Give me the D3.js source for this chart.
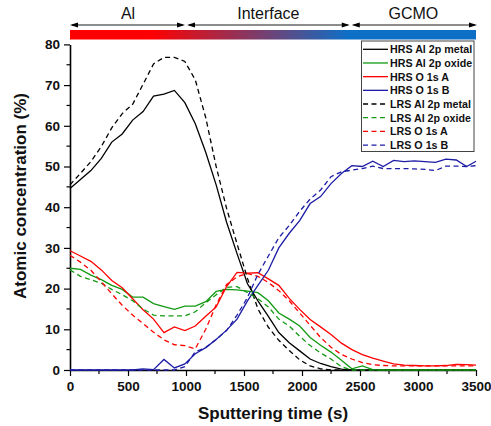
<!DOCTYPE html>
<html>
<head>
<meta charset="utf-8">
<script src="https://cdn.jsdelivr.net/npm/d3@7"></script>
<style>
  body { margin: 0; background: #fff; }
  svg { display: block; font-family: "Liberation Sans", Arial, sans-serif; }
</style>
</head>
<body>
<div id="chart"></div>
<script>
// sputtering time (s)
var times = [0, 90, 180, 270, 360, 450, 540, 630, 720, 810, 900, 990, 1080, 1170, 1260, 1350, 1440, 1530, 1620, 1710,
  1800, 1890, 1980, 2070, 2160, 2250, 2340, 2430, 2520, 2610, 2700, 2790, 2880, 2970, 3060, 3150, 3240, 3330, 3420, 3500];

var hrsAlMetal = [44.6, 46.8, 49.0, 52.0, 56.0, 58.0, 61.4, 63.5, 67.3, 67.8, 68.7, 65.7, 60.5, 53.5, 45.5, 36.3, 28.6, 21.2, 17.0, 13.2,
  9.2, 6.7, 4.7, 2.7, 1.6, 0.8, 0.2, 0, 0, 0, 0, 0, 0, 0, 0, 0, 0, 0, 0, 0];
var hrsAlOxide = [25.0, 24.7, 23.3, 22.2, 20.8, 19.8, 17.9, 17.9, 16.3, 15.6, 14.9, 15.7, 15.7, 16.8, 19.3, 19.8, 19.7, 19.4, 19.0, 17.0,
  14.0, 12.5, 10.8, 8.0, 6.1, 4.4, 2.4, 0.3, 1.0, 0.1, 0, 0, 0, 0, 0, 0, 0, 0, 0, 0];
var hrsO1sA = [29.3, 28.0, 26.7, 24.6, 22.0, 20.2, 17.5, 14.8, 12.5, 9.2, 10.6, 9.7, 10.8, 13.2, 15.5, 20.5, 24.0, 23.8, 23.9, 22.4,
  20.8, 17.6, 14.9, 12.4, 10.6, 8.7, 6.6, 5.0, 3.8, 2.9, 2.2, 1.5, 1.2, 1.1, 1.0, 1.0, 1.1, 1.4, 1.3, 1.2];
var hrsO1sB = [0, 0, 0, 0, 0, 0, 0, 0.3, 0.1, 2.6, 0.5, 1.5, 4.0, 5.5, 7.5, 9.8, 12.5, 17.0, 20.8, 24.5,
  30.0, 33.6, 36.7, 40.9, 42.6, 45.8, 48.3, 50.2, 50.0, 51.3, 50.0, 51.5, 51.2, 51.4, 51.2, 51.0, 51.8, 51.6, 50.0, 51.3];

var lrsAlMetal = [45.5, 48.3, 51.2, 54.9, 59.5, 63.0, 65.3, 70.2, 75.2, 76.8, 76.8, 75.8, 71.3, 62.0, 50.0, 39.7, 31.0, 22.5, 15.0, 10.5,
  7.3, 4.8, 2.5, 1.0, 0.3, 0, 0, 0, 0, 0, 0, 0, 0, 0, 0, 0, 0, 0, 0, 0];
var lrsAlOxide = [24.6, 23.0, 22.2, 21.3, 19.8, 18.5, 17.0, 15.0, 13.5, 13.3, 13.3, 13.3, 14.3, 16.5, 18.5, 20.3, 20.5, 19.0, 17.5, 15.5,
  12.5, 10.8, 8.3, 6.0, 4.2, 2.7, 0.8, 0, 0, 0, 0, 0, 0, 0, 0, 0, 0, 0, 0, 0];
var lrsO1sA = [28.2, 26.5, 24.5, 21.7, 18.7, 15.9, 13.5, 11.4, 9.3, 7.4, 6.2, 6.0, 5.2, 10.0, 16.0, 21.0, 22.9, 23.7, 23.0, 21.5,
  19.5, 17.0, 14.0, 11.0, 8.0, 5.6, 3.8, 2.7, 1.8, 1.3, 1.1, 1.0, 1.0, 1.0, 1.0, 1.0, 1.0, 1.0, 1.0, 1.0];
var lrsO1sB = [0, 0, 0, 0, 0, 0, 0, 0, 0, 0, 0, 0.8, 4.5, 5.5, 7.5, 9.7, 13.5, 17.8, 23.5, 28.0,
  32.5, 35.5, 39.0, 42.0, 44.2, 47.5, 48.7, 49.1, 49.5, 50.1, 49.5, 49.5, 49.5, 49.4, 49.3, 49.0, 50.1, 50.1, 50.0, 50.2];

var seriesNames = ["HRS Al 2p metal", "HRS Al 2p oxide", "HRS O 1s A", "HRS O 1s B",
  "LRS Al 2p metal", "LRS Al 2p oxide", "LRS O 1s A", "LRS O 1s B"];
var seriesValues = [hrsAlMetal, hrsAlOxide, hrsO1sA, hrsO1sB, lrsAlMetal, lrsAlOxide, lrsO1sA, lrsO1sB];
var seriesColors = ["#000000", "#139a13", "#ff0000", "#1c1ca6", "#000000", "#139a13", "#ff0000", "#1c1ca6"];

// depth regions along the top
var regionNames = ["Al", "Interface", "GCMO"];
var regionStart = [0, 1000, 2420];
var regionEnd = [1000, 2420, 3500];

var xTicks = [0, 500, 1000, 1500, 2000, 2500, 3000, 3500];
var yTicks = [0, 10, 20, 30, 40, 50, 60, 70, 80];

(function() {
  var width = 491, height = 426;
  var plotLeft = 70, plotRight = 476, plotTop = 44.4, plotBottom = 370;

  var svg = d3.select("#chart").append("svg")
    .attr("width", width)
    .attr("height", height);

  svg.append("rect").attr("width", width).attr("height", height).attr("fill", "#fff");

  var x = d3.scaleLinear().domain([0, 3500]).range([plotLeft, plotRight]);
  var y = d3.scaleLinear().domain([0, 80]).range([plotBottom, plotTop]);

  // gradient bar
  var defs = svg.append("defs");
  var grad = defs.append("linearGradient")
    .attr("id", "regionGrad")
    .attr("x1", "0%").attr("x2", "100%")
    .attr("y1", "0%").attr("y2", "0%");
  grad.append("stop").attr("offset", (x(700) - plotLeft) / (plotRight - plotLeft)).attr("stop-color", "#ff0000");
  grad.append("stop").attr("offset", (x(2400) - plotLeft) / (plotRight - plotLeft)).attr("stop-color", "#0e6fc6");

  svg.append("rect")
    .attr("x", x(0))
    .attr("y", 30)
    .attr("width", x(3500) - x(0))
    .attr("height", 9.5)
    .attr("fill", "url(#regionGrad)");

  // arrows
  var arrowY = 25, headLen = 8, headHalf = 2.6;
  regionNames.forEach(function(name, i) {
    var x0 = x(regionStart[i]) + (i > 0 ? 1 : 0);
    var x1 = x(regionEnd[i]) - (i < regionNames.length - 1 ? 1 : -1);
    svg.append("line")
      .attr("x1", x0 + 2).attr("x2", x1 - 2)
      .attr("y1", arrowY).attr("y2", arrowY)
      .attr("stroke", "#000").attr("stroke-width", 0.9);
    svg.append("path")
      .attr("d", "M" + x0 + "," + arrowY + "L" + (x0 + headLen) + "," + (arrowY - headHalf) + "L" + (x0 + headLen) + "," + (arrowY + headHalf) + "Z")
      .attr("fill", "#000");
    svg.append("path")
      .attr("d", "M" + x1 + "," + arrowY + "L" + (x1 - headLen) + "," + (arrowY - headHalf) + "L" + (x1 - headLen) + "," + (arrowY + headHalf) + "Z")
      .attr("fill", "#000");
    svg.append("text")
      .attr("x", (x(regionStart[i]) + x(regionEnd[i])) / 2)
      .attr("y", 18.5)
      .attr("text-anchor", "middle")
      .attr("font-size", "16px")
      .attr("fill", "#111")
      .text(name);
  });

  // axes
  var xMinor = d3.range(250, 3500, 500);
  var yMinor = d3.range(5, 80, 10);

  var xAxis = svg.append("g")
    .attr("transform", "translate(0," + plotBottom + ")")
    .call(d3.axisBottom(x).tickValues(xTicks).tickFormat(d3.format("d")).tickSize(6).tickSizeOuter(0).tickPadding(5));
  xMinor.forEach(function(v) {
    xAxis.append("line")
      .attr("x1", x(v)).attr("x2", x(v))
      .attr("y2", 4)
      .attr("stroke", "#000");
  });

  var yAxis = svg.append("g")
    .attr("transform", "translate(" + plotLeft + ",0)")
    .call(d3.axisLeft(y).tickValues(yTicks).tickSize(6).tickSizeOuter(0).tickPadding(4));
  yMinor.forEach(function(v) {
    yAxis.append("line")
      .attr("x2", -3.5)
      .attr("y1", y(v)).attr("y2", y(v))
      .attr("stroke", "#000");
  });

  [xAxis, yAxis].forEach(function(a) {
    a.select(".domain").attr("stroke-width", 1.6);
    a.selectAll("line").attr("stroke-width", 1.2);
    a.selectAll("text")
      .attr("font-size", "13.5px")
      .attr("font-weight", "bold")
      .attr("font-family", "Liberation Sans, Arial, sans-serif")
      .attr("fill", "#111");
  });

  // series lines
  var line = d3.line()
    .x(function(d, i) { return x(times[i]); })
    .y(function(d) { return y(d); });

  seriesValues.forEach(function(vals, k) {
    svg.append("path")
      .datum(vals)
      .attr("d", line)
      .attr("fill", "none")
      .attr("stroke", seriesColors[k])
      .attr("stroke-width", 1.3)
      .attr("stroke-dasharray", k >= 4 ? "5,3.5" : null);
  });

  // axis titles
  svg.append("text")
    .attr("x", (plotLeft + plotRight) / 2)
    .attr("y", 419)
    .attr("text-anchor", "middle")
    .attr("font-size", "17px")
    .attr("font-weight", "bold")
    .attr("fill", "#111")
    .text("Sputtering time (s)");

  svg.append("text")
    .attr("transform", "translate(26,196) rotate(-90)")
    .attr("text-anchor", "middle")
    .attr("font-size", "17px")
    .attr("font-weight", "bold")
    .attr("fill", "#111")
    .text("Atomic concentration (%)");

  // legend
  var legend = svg.append("g");
  legend.append("rect")
    .attr("x", 361.5).attr("y", 41)
    .attr("width", 112.5).attr("height", 110.5)
    .attr("fill", "#fff")
    .attr("stroke", "#444")
    .attr("stroke-width", 1);

  seriesNames.forEach(function(name, k) {
    var ry = 49.3 + k * 13.68;
    legend.append("line")
      .attr("x1", 363).attr("x2", 388)
      .attr("y1", ry).attr("y2", ry)
      .attr("stroke", seriesColors[k])
      .attr("stroke-width", 1.3)
      .attr("stroke-dasharray", k >= 4 ? "5,3.5" : null);
    legend.append("text")
      .attr("x", 390)
      .attr("y", ry)
      .attr("dy", "0.36em")
      .attr("font-size", "10.7px")
      .attr("font-weight", "bold")
      .attr("fill", "#111")
      .text(name);
  });
})();
</script>
</body>
</html>
